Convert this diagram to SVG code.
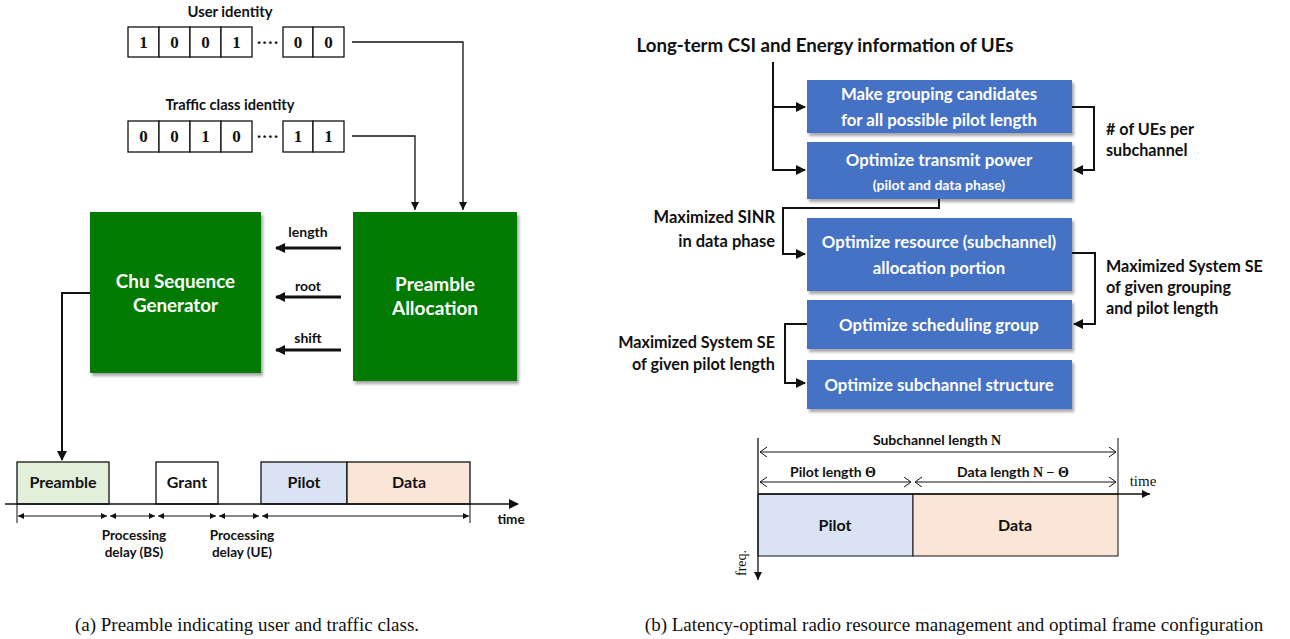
<svg xmlns="http://www.w3.org/2000/svg" width="1290" height="639" viewBox="0 0 1290 639">
<style>
.lbl{font-family:Lato,"Open Sans","Liberation Sans",sans-serif;font-weight:bold;fill:#111;}
.wt{font-family:Lato,"Open Sans","Liberation Sans",sans-serif;font-weight:bold;fill:#fff;text-anchor:middle;}
.bit{font-family:"Liberation Serif",serif;font-weight:bold;font-size:17px;text-anchor:middle;fill:#111;}
.serif{font-family:"Liberation Serif",serif;fill:#111;}
.cell{fill:#fff;stroke:#111;stroke-width:1.3;}
.thin{fill:none;stroke:#111;stroke-width:1.3;}
.thick{fill:none;stroke:#111;stroke-width:3;}
.mid{fill:none;stroke:#111;stroke-width:2;}
.dim{fill:none;stroke:#111;stroke-width:1;}
.green{fill:#037A03;}
.blue{fill:#4472C4;}
</style>
<defs>
<filter id="sh" x="-10%" y="-10%" width="130%" height="130%">
<feDropShadow dx="2" dy="3" stdDeviation="1.5" flood-color="#000" flood-opacity="0.35"/>
</filter>
<marker id="aThin" markerUnits="userSpaceOnUse" markerWidth="10" markerHeight="10" refX="8" refY="4" orient="auto">
<path d="M0,0 L8,4 L0,8 z" fill="#111"/>
</marker>
<marker id="aThick" markerUnits="userSpaceOnUse" markerWidth="12" markerHeight="12" refX="9" refY="5" orient="auto">
<path d="M0,0 L10,5 L0,10 z" fill="#111"/>
</marker>
<marker id="aMid" markerUnits="userSpaceOnUse" markerWidth="12" markerHeight="12" refX="9" refY="5" orient="auto">
<path d="M0,0 L10,5 L0,10 z" fill="#111"/>
</marker>
<marker id="aDim" markerUnits="userSpaceOnUse" markerWidth="8" markerHeight="8" refX="6" refY="3" orient="auto-start-reverse">
<path d="M0,0 L6,3 L0,6 z" fill="#111"/>
</marker>
<marker id="chev" markerUnits="userSpaceOnUse" markerWidth="10" markerHeight="12" refX="8" refY="5" orient="auto-start-reverse">
<path d="M1,0 L8,5 L1,10" fill="none" stroke="#111" stroke-width="1"/>
</marker>
</defs>

<!-- (a) left diagram -->
<g id="user-identity">
<text class="lbl" x="230" y="17" font-size="14.8" text-anchor="middle">User identity</text>
<rect class="cell" x="128" y="27" width="31" height="30"/>
<rect class="cell" x="159" y="27" width="31" height="30"/>
<rect class="cell" x="190" y="27" width="31" height="30"/>
<rect class="cell" x="221" y="27" width="31" height="30"/>
<rect class="cell" x="283" y="27" width="30" height="30"/>
<rect class="cell" x="313" y="27" width="31" height="30"/>
<text class="bit" x="143.5" y="48">1</text>
<text class="bit" x="174.5" y="48">0</text>
<text class="bit" x="205.5" y="48">0</text>
<text class="bit" x="236.5" y="48">1</text>
<text class="bit" x="267.5" y="48">····</text>
<text class="bit" x="298" y="48">0</text>
<text class="bit" x="328.5" y="48">0</text>
</g>
<g id="traffic-class-identity">
<text class="lbl" x="230" y="110" font-size="14.6" text-anchor="middle">Traffic class identity</text>
<rect class="cell" x="128" y="121" width="31" height="31"/>
<rect class="cell" x="159" y="121" width="31" height="31"/>
<rect class="cell" x="190" y="121" width="31" height="31"/>
<rect class="cell" x="221" y="121" width="31" height="31"/>
<rect class="cell" x="283" y="121" width="30" height="31"/>
<rect class="cell" x="313" y="121" width="31" height="31"/>
<text class="bit" x="143.5" y="142">0</text>
<text class="bit" x="174.5" y="142">0</text>
<text class="bit" x="205.5" y="142">1</text>
<text class="bit" x="236.5" y="142">0</text>
<text class="bit" x="267.5" y="142">····</text>
<text class="bit" x="298" y="142">1</text>
<text class="bit" x="328.5" y="142">1</text>
</g>
<g id="chu-generator">
<rect class="green" x="90" y="212" width="171" height="161" filter="url(#sh)"/>
<text class="wt" x="175.5" y="288" font-size="18.8">Chu Sequence</text>
<text class="wt" x="175.5" y="312" font-size="18.8">Generator</text>
</g>
<g id="preamble-allocation">
<rect class="green" x="353" y="212" width="164" height="169" filter="url(#sh)"/>
<text class="wt" x="435" y="291" font-size="19">Preamble</text>
<text class="wt" x="435" y="315" font-size="19">Allocation</text>
</g>
<g id="timeline">
<rect x="17" y="462" width="92" height="42" fill="#E2EFDA" stroke="#111" stroke-width="1.3"/>
<rect x="156" y="462" width="62" height="42" fill="#fff" stroke="#111" stroke-width="1.3"/>
<rect x="261" y="462" width="86" height="42" fill="#DAE3F3" stroke="#111" stroke-width="1.3"/>
<rect x="347" y="462" width="123" height="42" fill="#FBE5D6" stroke="#111" stroke-width="1.3"/>
<text class="lbl" x="63" y="488" font-size="16" text-anchor="middle">Preamble</text>
<text class="lbl" x="187" y="488" font-size="16" text-anchor="middle">Grant</text>
<text class="lbl" x="304" y="488" font-size="16" text-anchor="middle">Pilot</text>
<text class="lbl" x="409" y="488" font-size="16" text-anchor="middle">Data</text>
<text class="lbl" x="511" y="524" font-size="13.5" text-anchor="middle">time</text>
<text class="lbl" x="134" y="540" font-size="13.5" text-anchor="middle">Processing</text>
<text class="lbl" x="134" y="557" font-size="13.5" text-anchor="middle">delay (BS)</text>
<text class="lbl" x="242" y="540" font-size="13.5" text-anchor="middle">Processing</text>
<text class="lbl" x="242" y="557" font-size="13.5" text-anchor="middle">delay (UE)</text>
</g>
<g id="connectors-a">
<path class="thin" d="M352,42 H463 V210" marker-end="url(#aThin)"/>
<path class="thin" d="M352,136 H415 V210" marker-end="url(#aThin)"/>
<path class="thick" d="M341,248 H276" marker-end="url(#aThick)"/>
<path class="thick" d="M341,297 H276" marker-end="url(#aThick)"/>
<path class="thick" d="M341,350 H276" marker-end="url(#aThick)"/>
<text class="lbl" x="308" y="237" font-size="14" text-anchor="middle">length</text>
<text class="lbl" x="308" y="291" font-size="14" text-anchor="middle">root</text>
<text class="lbl" x="308" y="343" font-size="14" text-anchor="middle">shift</text>
<path class="mid" d="M90,293 H62 V460" marker-end="url(#aMid)" stroke-width="2.5"/>
<path class="thin" d="M5,504 H518" stroke-width="1.5" marker-end="url(#aMid)"/>
<path class="dim" d="M17,504 V523 M470,504 V523"/>
<path class="dim" d="M18,516 H107" marker-start="url(#aDim)" marker-end="url(#aDim)"/>
<path class="dim" d="M110,516 H155" marker-start="url(#aDim)" marker-end="url(#aDim)"/>
<path class="dim" d="M158,516 H216" marker-start="url(#aDim)" marker-end="url(#aDim)"/>
<path class="dim" d="M219,516 H259" marker-start="url(#aDim)" marker-end="url(#aDim)"/>
<path class="dim" d="M262,516 H469" marker-start="url(#aDim)" marker-end="url(#aDim)"/>
</g>

<!-- (b) right diagram -->
<text class="lbl" x="825" y="52" font-size="18.7" text-anchor="middle">Long-term CSI and Energy information of UEs</text>
<g id="box-grouping">
<rect class="blue" x="807" y="80" width="265" height="53" filter="url(#sh)"/>
<text class="wt" x="939" y="100" font-size="16.8">Make grouping candidates</text>
<text class="wt" x="939" y="126" font-size="16.8">for all possible pilot length</text>
</g>
<g id="box-power">
<rect class="blue" x="807" y="142" width="265" height="57" filter="url(#sh)"/>
<text class="wt" x="939" y="166" font-size="16.8">Optimize transmit power</text>
<text class="wt" x="939" y="190" font-size="14">(pilot and data phase)</text>
</g>
<g id="box-resource">
<rect class="blue" x="807" y="218" width="265" height="73" filter="url(#sh)"/>
<text class="wt" x="939" y="248" font-size="16.8">Optimize resource (subchannel)</text>
<text class="wt" x="939" y="274" font-size="16.8">allocation portion</text>
</g>
<g id="box-scheduling">
<rect class="blue" x="807" y="300" width="265" height="49" filter="url(#sh)"/>
<text class="wt" x="939" y="331" font-size="16.8">Optimize scheduling group</text>
</g>
<g id="box-subchannel">
<rect class="blue" x="807" y="360" width="265" height="49" filter="url(#sh)"/>
<text class="wt" x="939" y="391" font-size="16.8">Optimize subchannel structure</text>
</g>
<g id="connectors-b">
<path class="mid" d="M773,62 V170 H805" marker-end="url(#aMid)"/>
<path class="mid" d="M773,107 H805" marker-end="url(#aMid)"/>
<path class="mid" d="M1072,107 H1094 V170 H1074" marker-end="url(#aMid)"/>
<path class="mid" d="M939,199 V208 H783 V254 H805" marker-end="url(#aMid)"/>
<path class="mid" d="M1072,253 H1095 V324 H1074" marker-end="url(#aMid)"/>
<path class="mid" d="M807,324 H785 V383 H805" marker-end="url(#aMid)"/>
<text class="lbl" x="1106" y="135" font-size="16.2">#&#160;of UEs per</text>
<text class="lbl" x="1106" y="156" font-size="16.2">subchannel</text>
<text class="lbl" x="775" y="223" font-size="16.5" text-anchor="end">Maximized SINR</text>
<text class="lbl" x="775" y="247" font-size="16.5" text-anchor="end">in data phase</text>
<text class="lbl" x="1106" y="272" font-size="16.2">Maximized System SE</text>
<text class="lbl" x="1106" y="293" font-size="16.2">of given grouping</text>
<text class="lbl" x="1106" y="314" font-size="16.2">and pilot length</text>
<text class="lbl" x="775" y="348" font-size="16.2" text-anchor="end">Maximized System SE</text>
<text class="lbl" x="775" y="370" font-size="16.2" text-anchor="end">of given pilot length</text>
</g>
<g id="frame">
<rect x="758" y="494" width="155" height="62" fill="#DAE3F3" stroke="#111" stroke-width="1"/>
<rect x="913" y="494" width="205" height="62" fill="#FBE5D6" stroke="#111" stroke-width="1"/>
<text class="lbl" x="835" y="531" font-size="16" text-anchor="middle">Pilot</text>
<text class="lbl" x="1015" y="531" font-size="16" text-anchor="middle">Data</text>
<path class="thin" d="M758,438 V580" stroke-width="1.5" marker-end="url(#aThin)"/>
<path class="thin" d="M758,494 H1150" stroke-width="1.5" marker-end="url(#aThin)"/>
<path class="dim" d="M1118,438 V494"/>
<path class="dim" d="M760,452 H1116" marker-start="url(#chev)" marker-end="url(#chev)"/>
<path class="dim" d="M760,482 H911" marker-start="url(#chev)" marker-end="url(#chev)"/>
<path class="dim" d="M915,482 H1116" marker-start="url(#chev)" marker-end="url(#chev)"/>
<text class="lbl" x="937" y="445" font-size="14" text-anchor="middle">Subchannel length <tspan class="serif" font-weight="bold">N</tspan></text>
<text class="lbl" x="833" y="477" font-size="14" text-anchor="middle">Pilot length <tspan class="serif" font-weight="bold">Θ</tspan></text>
<text class="lbl" x="1013" y="477" font-size="14" text-anchor="middle">Data length <tspan class="serif" font-weight="bold">N − Θ</tspan></text>
<text class="serif" x="1143" y="486" font-size="15" text-anchor="middle">time</text>
<text class="serif" x="0" y="0" font-size="14" text-anchor="middle" transform="translate(746,563) rotate(-90)">freq.</text>
</g>

<text class="serif" x="247" y="631" font-size="19" text-anchor="middle">(a) Preamble indicating user and traffic class.</text>
<text class="serif" x="954" y="631" font-size="19" text-anchor="middle">(b) Latency-optimal radio resource management and optimal frame configuration</text>
</svg>
